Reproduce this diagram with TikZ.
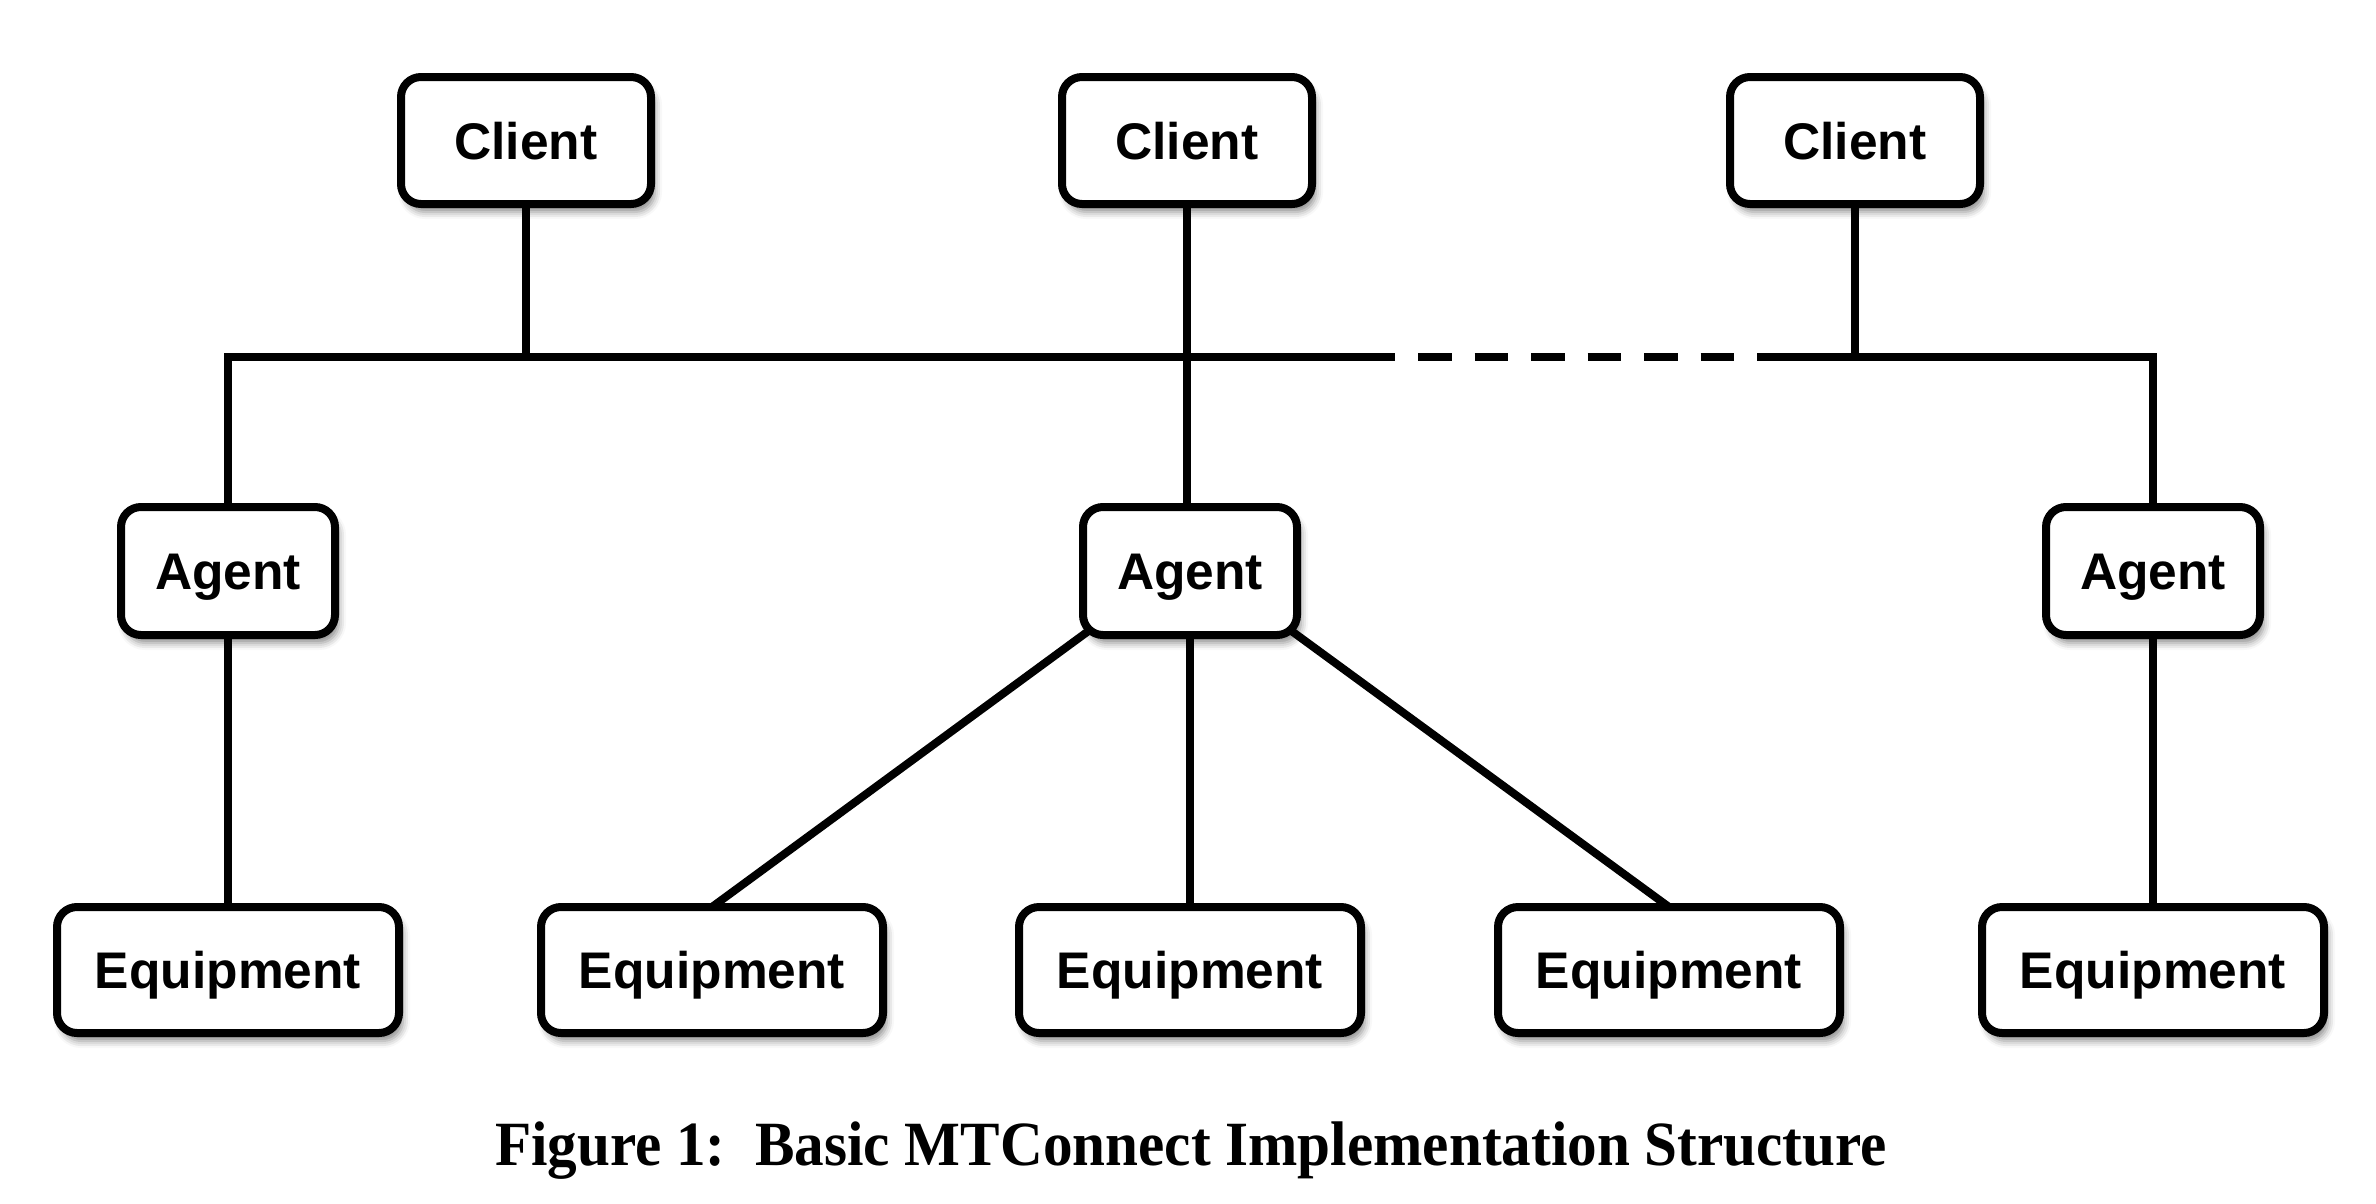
\documentclass[tikz,border=0pt]{standalone}
\usepackage{fontspec}
\usepackage{graphicx}
\setmainfont{Liberation Serif}
\newfontfamily\boxfont{Liberation Sans}
\usetikzlibrary{calc,backgrounds,shadows.blur}
\begin{document}
\begin{tikzpicture}[x=1pt,y=1pt,
  box/.style={draw, line width=8pt, rounded corners=20pt, fill=white, outer sep=0pt, inner sep=0pt,
     font=\boxfont\bfseries\fontsize{51.5}{60}\selectfont, text height=37pt, text depth=0pt,
     blur shadow={shadow xshift=4pt, shadow yshift=-8pt, shadow blur radius=7pt, shadow opacity=45}},
  clientbox/.style={box, minimum width=250pt, minimum height=127pt},
  agentbox/.style={box, minimum width=214pt, minimum height=128pt},
  equipbox/.style={box, minimum width=342pt, minimum height=126pt},
  link/.style={line width=8pt},
  buslink/.style={link, dash pattern=on 33.5pt off 23pt, dash phase=33.5pt}
]
\useasboundingbox (0,0) rectangle (2376,-1203);

% Clients
\node[clientbox] (c1) at (526,-140.5) {Client};
\node[clientbox] (c2) at (1187,-140.5) {Client};
\node[clientbox] (c3) at (1855,-140.5) {Client};

% Agents
\node[agentbox] (a1) at (228,-571) {Agent};
\node[agentbox] (a2) at (1190,-571) {Agent};
\node[agentbox] (a3) at (2153,-571) {Agent};

% Equipment
\node[equipbox] (e1) at (228,-970) {Equipment};
\node[equipbox] (e2) at (712,-970) {Equipment};
\node[equipbox] (e3) at (1190,-970) {Equipment};
\node[equipbox] (e4) at (1669,-970) {Equipment};
\node[equipbox] (e5) at (2153,-970) {Equipment};

% Bus coordinates
\coordinate (busL) at (228,-357);
\coordinate (dashA) at (1395,-357);
\coordinate (dashB) at (1757,-357);

% Caption
\node[anchor=base, font=\bfseries\fontsize{63}{70}\selectfont] (cap) at (1191,-1165)
  {\resizebox{1392pt}{\height}{Figure 1:\enspace Basic MTConnect Implementation Structure}};

\begin{scope}[on background layer]
  \draw[link] (a1.north) -- (busL) -- (dashA);
  \draw[buslink] (dashA) -- (dashB);
  \draw[link] (dashB) -| (a3.north);
  \draw[link] (c1.south) -- (c1.south |- busL);
  \draw[link] (c2.south) -- (c2.south |- a2.north);
  \draw[link] (c3.south) -- (c3.south |- busL);
  \draw[link] (a1.south) -- (e1.north);
  \draw[link] (a3.south) -- (e5.north);
  \draw[link] (a2.south) -- (e3.north);
  \draw[link] (e2.north) -- ($(e2.north)!1.15!(a2.south west)$);
  \draw[link] (e4.north) -- ($(e4.north)!1.15!(a2.south east)$);
\end{scope}
\end{tikzpicture}
\end{document}
